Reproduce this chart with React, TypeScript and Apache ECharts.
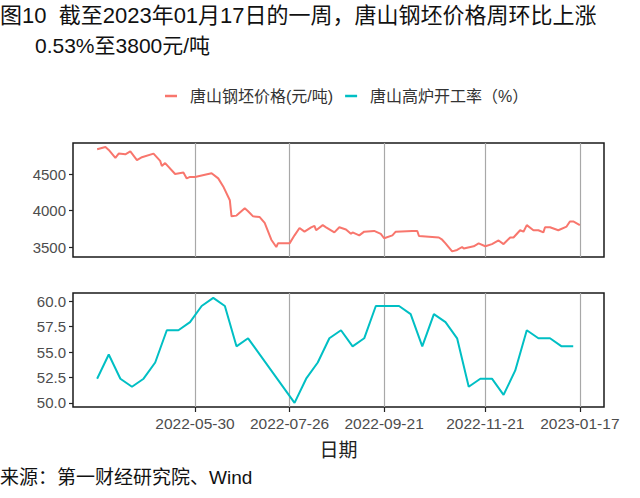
import React, { useEffect, useRef } from 'react';
import * as echarts from 'echarts';

const priceDates = [
  '2022-04-01','2022-04-06','2022-04-08','2022-04-12','2022-04-14','2022-04-18','2022-04-21','2022-04-25','2022-04-28',
  '2022-05-05','2022-05-09','2022-05-10','2022-05-12','2022-05-18','2022-05-23','2022-05-25','2022-05-27','2022-05-30',
  '2022-06-09','2022-06-13','2022-06-16','2022-06-20','2022-06-21','2022-06-24','2022-06-29','2022-07-01','2022-07-04',
  '2022-07-08','2022-07-11','2022-07-15','2022-07-18','2022-07-19','2022-07-26','2022-07-29','2022-08-01','2022-08-04',
  '2022-08-08','2022-08-10','2022-08-11','2022-08-15','2022-08-17','2022-08-22','2022-08-25','2022-08-29','2022-09-01',
  '2022-09-02','2022-09-06','2022-09-09','2022-09-15','2022-09-19','2022-09-21','2022-09-26','2022-09-28','2022-10-08',
  '2022-10-11','2022-10-12','2022-10-18','2022-10-24','2022-10-26','2022-10-28','2022-11-01','2022-11-04','2022-11-07',
  '2022-11-08','2022-11-14','2022-11-17','2022-11-21','2022-11-25','2022-11-29','2022-12-02','2022-12-06','2022-12-08',
  '2022-12-12','2022-12-14','2022-12-16','2022-12-20','2022-12-23','2022-12-26','2022-12-27','2022-12-30','2023-01-04',
  '2023-01-09','2023-01-11','2023-01-13','2023-01-17'
];
const priceValues = [
  4840, 4870, 4830, 4720, 4780, 4770, 4810, 4690, 4730,
  4780, 4680, 4610, 4650, 4500, 4520, 4440, 4460, 4460,
  4510, 4440, 4330, 4140, 3920, 3930, 4030, 3990, 3920,
  3910, 3830, 3600, 3500, 3550, 3550, 3660, 3760, 3710,
  3770, 3790, 3730, 3800, 3770, 3700, 3770, 3740, 3680,
  3700, 3660, 3710, 3720, 3680, 3620, 3660, 3710, 3720,
  3720, 3650, 3640, 3630, 3600, 3550, 3440, 3460, 3500,
  3480, 3510, 3550, 3510, 3540, 3590, 3540, 3630, 3630,
  3730, 3710, 3800, 3730, 3730, 3700, 3770, 3770, 3730,
  3780, 3850, 3850, 3800
];

const rateDates = [
  '2022-04-01','2022-04-08','2022-04-15','2022-04-22','2022-04-29','2022-05-06','2022-05-13','2022-05-20','2022-05-27',
  '2022-06-03','2022-06-10','2022-06-17','2022-06-24','2022-07-01',
  '2022-07-29','2022-08-05','2022-08-12','2022-08-19','2022-08-26','2022-09-02','2022-09-09','2022-09-16','2022-09-23',
  '2022-09-30','2022-10-07','2022-10-14','2022-10-21','2022-10-28','2022-11-04','2022-11-11','2022-11-18','2022-11-25',
  '2022-12-02','2022-12-09','2022-12-16','2022-12-23','2022-12-30','2023-01-06','2023-01-13'
];
const rateValues = [
  52.38, 54.76, 52.38, 51.59, 52.38, 53.97, 57.14, 57.14, 57.94,
  59.52, 60.32, 59.52, 55.56, 56.35,
  50.00, 52.38, 53.97, 56.35, 57.14, 55.56, 56.35, 59.52, 59.52,
  59.52, 58.73, 55.56, 58.73, 57.94, 56.35, 51.59, 52.38, 52.38,
  50.79, 53.17, 57.14, 56.35, 56.35, 55.56, 55.56
];

const xTickDates = ['2022-05-30', '2022-07-26', '2022-09-21', '2022-11-21', '2023-01-17'];
const priceTicks = [3500, 4000, 4500];
const rateTicks = [50, 52.5, 55, 57.5, 60];

const seriesNames = ['唐山钢坯价格(元/吨)', '唐山高炉开工率（%）'];
const titleLine1 = '图10  截至2023年01月17日的一周，唐山钢坯价格周环比上涨';
const titleLine2 = '0.53%至3800元/吨';
const sourceText = '来源：第一财经研究院、Wind';
const xName = '日期';

const FONT = '"Liberation Sans", Arial, "Noto Sans CJK SC", sans-serif';

function toMs(s: string): number {
  const [y, m, d] = s.split('-').map(Number);
  return Date.UTC(y, m - 1, d);
}
function fmtDate(v: number): string {
  const d = new Date(Math.round(v));
  const p = (n: number) => (n < 10 ? '0' + n : '' + n);
  return d.getUTCFullYear() + '-' + p(d.getUTCMonth() + 1) + '-' + p(d.getUTCDate());
}

export default function App() {
  const ref = useRef<HTMLDivElement>(null);
  useEffect(() => {
    if (!ref.current) return;
    const chart = echarts.init(ref.current, undefined, { renderer: 'svg' });
    const allMs = priceDates.concat(rateDates).map(toMs);
    const dMin = Math.min(...allMs);
    const dMax = Math.max(...allMs);
    const pad = (dMax - dMin) * 0.05;
    const xMin = dMin - pad;
    const xMax = dMax + pad;
    const tickMs = xTickDates.map(toMs);

    const baseX = (gridIndex: number, showLabels: boolean) => ({
      type: 'value' as const,
      gridIndex,
      min: xMin,
      max: xMax,
      axisLine: { show: false },
      axisTick: {
        show: showLabels,
        customValues: tickMs,
        length: 5,
        lineStyle: { color: '#222', width: 1.2 },
      },
      axisLabel: {
        show: showLabels,
        customValues: tickMs,
        formatter: (v: number) => fmtDate(v),
        color: '#4D4D4D',
        fontSize: 15.5,
        fontFamily: FONT,
        margin: 9,
        hideOverlap: false,
      },
      splitLine: { show: true, lineStyle: { color: '#A8A8A8', width: 1.2 } },
      name: showLabels ? xName : '',
      nameLocation: 'middle' as const,
      nameGap: 34,
      nameTextStyle: { fontSize: 19, color: '#222', fontFamily: FONT },
    });

    const option = {
      animation: false,
      backgroundColor: '#fff',
      title: [
        { text: titleLine1, left: 0, top: 4, padding: 0, textStyle: { fontSize: 22, fontWeight: 'normal', color: '#111', fontFamily: FONT } },
        { text: titleLine2, left: 35, top: 35, padding: 0, textStyle: { fontSize: 21, fontWeight: 'normal', color: '#111', fontFamily: FONT } },
      ],
      legend: {
        left: 165,
        top: 88,
        padding: 0,
        icon: 'rect',
        itemWidth: 12,
        itemHeight: 2.5,
        itemGap: 12,
        textStyle: { fontSize: 16, color: '#333', fontFamily: FONT, padding: [0, 0, 0, 8] },
        data: seriesNames,
      },
      grid: [
        { left: 73, right: 36, top: 143, height: 114, show: true, borderColor: '#1a1a1a', borderWidth: 1.5, backgroundColor: 'transparent' },
        { left: 73, right: 36, top: 293, height: 114, show: true, borderColor: '#1a1a1a', borderWidth: 1.5, backgroundColor: 'transparent' },
      ],
      xAxis: [baseX(0, false), baseX(1, true)],
      yAxis: [
        {
          type: 'value',
          gridIndex: 0,
          min: 3363,
          max: 4925,
          axisLine: { show: false },
          axisTick: { show: true, customValues: priceTicks, length: 4, lineStyle: { color: '#222', width: 1.2 } },
          axisLabel: {
            customValues: priceTicks,
            formatter: (v: number) => String(v),
            color: '#4D4D4D',
            fontSize: 15,
            fontFamily: FONT,
            margin: 7,
          },
          splitLine: { show: false },
        },
        {
          type: 'value',
          gridIndex: 1,
          min: 49.6,
          max: 60.8,
          axisLine: { show: false },
          axisTick: { show: true, customValues: rateTicks, length: 4, lineStyle: { color: '#222', width: 1.2 } },
          axisLabel: {
            customValues: rateTicks,
            formatter: (v: number) => v.toFixed(1),
            color: '#4D4D4D',
            fontSize: 15,
            fontFamily: FONT,
            margin: 7,
          },
          splitLine: { show: false },
        },
      ],
      series: [
        {
          name: seriesNames[0],
          type: 'line',
          xAxisIndex: 0,
          yAxisIndex: 0,
          showSymbol: false,
          symbol: 'none',
          color: '#F8766D',
          lineStyle: { color: '#F8766D', width: 2 },
          data: priceDates.map((d, i) => [toMs(d), priceValues[i]]),
        },
        {
          name: seriesNames[1],
          type: 'line',
          xAxisIndex: 1,
          yAxisIndex: 1,
          showSymbol: false,
          symbol: 'none',
          color: '#00BFC4',
          lineStyle: { color: '#00BFC4', width: 2 },
          data: rateDates.map((d, i) => [toMs(d), rateValues[i]]),
        },
      ],
      graphic: [
        {
          type: 'text',
          left: 0,
          top: 468,
          style: { text: sourceText, fontSize: 19, fill: '#111', fontFamily: FONT },
        },
      ],
    };
    chart.setOption(option as any);
    return () => chart.dispose();
  }, []);
  return <div ref={ref} style={{ width: 640, height: 498, position: 'absolute', left: 0, top: 0 }} />;
}
